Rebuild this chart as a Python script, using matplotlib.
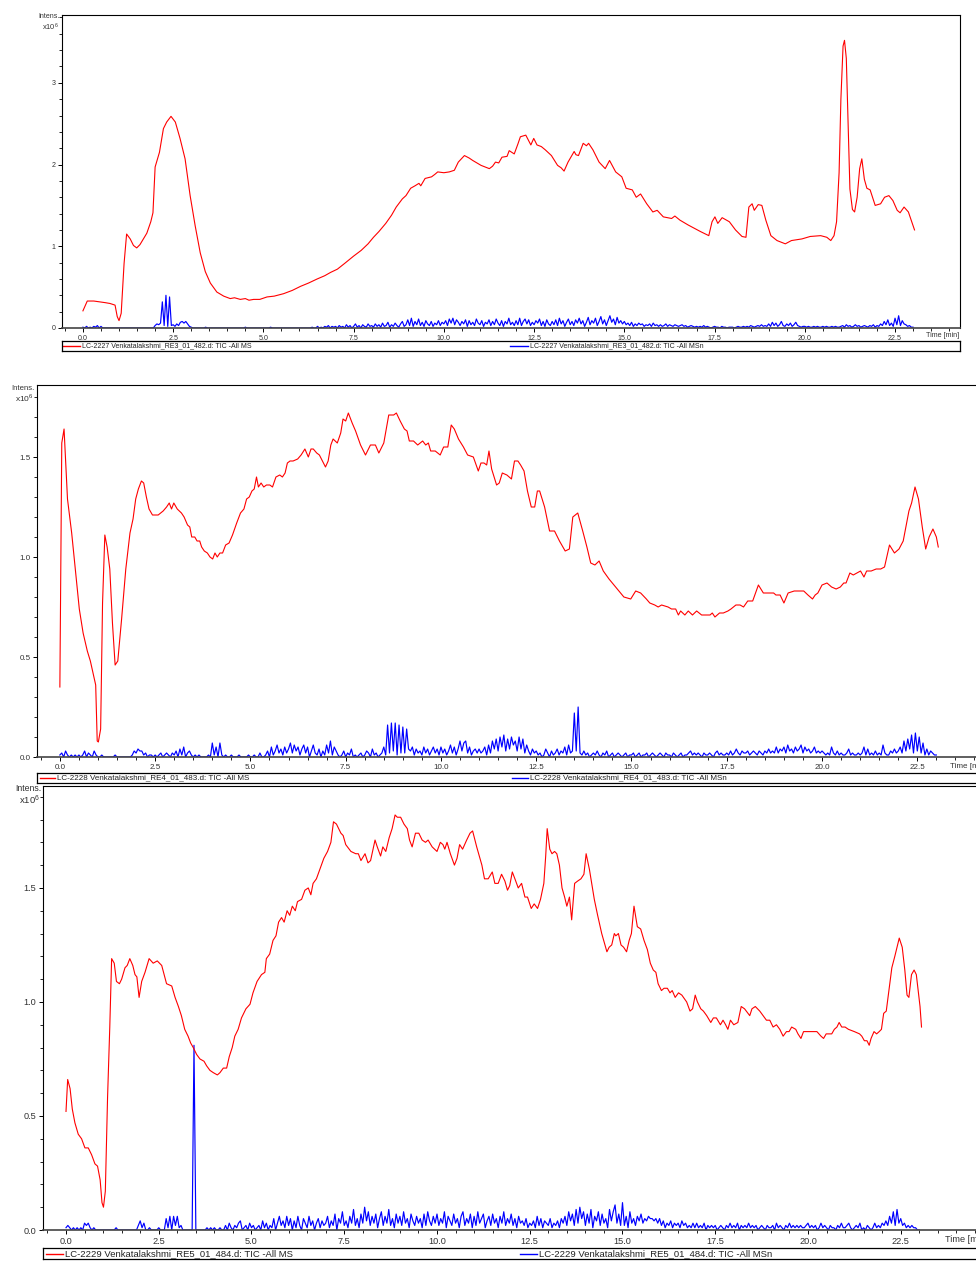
import numpy as np
import matplotlib
matplotlib.use("Agg")
import matplotlib.pyplot as plt
from matplotlib.ticker import MultipleLocator, FormatStrFormatter

W, H = 976, 1261
plt.rcParams["font.family"] = ["Liberation Sans", "DejaVu Sans"]
plt.rcParams["mathtext.fontset"] = "custom"
plt.rcParams["mathtext.rm"] = "Liberation Sans"

RED = "#ff0000"
BLUE = "#0000ff"
BLUE_STEP = 0.05  # minutes between MSn samples

# ---------------------------------------------------------------- data
# intensities in units of 1e6, time in minutes
p1_red_t = [0.00, 0.12, 0.30, 0.47, 0.62, 0.75, 0.89, 0.95, 1.00, 1.06, 1.14, 1.21, 1.31, 1.40, 1.49,
            1.58, 1.77, 1.88, 1.94, 2.00, 2.12, 2.23, 2.32, 2.44, 2.56, 2.69, 2.83, 2.97, 3.11, 3.25,
            3.39, 3.53, 3.71, 3.90, 4.08, 4.20, 4.36, 4.50, 4.60, 4.73, 4.90, 5.10, 5.30, 5.56, 5.80,
            6.03, 6.25, 6.49, 6.70, 6.86, 7.05, 7.25, 7.50, 7.71, 7.90, 8.05, 8.20, 8.39, 8.55, 8.68,
            8.85, 8.95, 9.08, 9.20, 9.31, 9.36, 9.48, 9.66, 9.75, 9.83, 10.00, 10.15, 10.29, 10.40,
            10.57, 10.70, 10.80, 11.03, 11.26, 11.35, 11.43, 11.52, 11.61, 11.75, 11.81, 11.95, 12.05,
            12.12, 12.27, 12.41, 12.49, 12.58, 12.70, 12.81, 12.98, 13.15, 13.25, 13.33, 13.44, 13.61,
            13.66, 13.73, 13.86, 13.95, 14.01, 14.13, 14.30, 14.47, 14.59, 14.76, 14.93, 15.05, 15.22,
            15.33, 15.45, 15.62, 15.79, 15.91, 16.08, 16.31, 16.40, 16.54, 16.77, 16.94, 17.11, 17.34,
            17.43, 17.51, 17.59, 17.71, 17.91, 18.08, 18.26, 18.37, 18.45, 18.54, 18.60, 18.71, 18.81,
            18.92, 19.06, 19.23, 19.46, 19.63, 19.92, 20.15, 20.44, 20.61, 20.72, 20.81, 20.88, 20.95,
            21.00, 21.06, 21.10, 21.15, 21.20, 21.25, 21.32, 21.38, 21.45, 21.52, 21.58, 21.65, 21.72,
            21.81, 21.95, 22.10, 22.21, 22.33, 22.44, 22.56, 22.64, 22.75, 22.87, 23.04]
p1_red_v = [0.21, 0.33, 0.33, 0.32, 0.31, 0.30, 0.28, 0.14, 0.09, 0.18, 0.79, 1.15, 1.09, 1.01, 0.98,
            1.02, 1.16, 1.30, 1.41, 1.97, 2.15, 2.44, 2.52, 2.59, 2.52, 2.32, 2.07, 1.62, 1.25, 0.92,
            0.69, 0.55, 0.44, 0.39, 0.36, 0.37, 0.35, 0.36, 0.34, 0.35, 0.35, 0.38, 0.39, 0.42, 0.46,
            0.51, 0.55, 0.60, 0.64, 0.68, 0.72, 0.79, 0.88, 0.95, 1.03, 1.11, 1.18, 1.28, 1.38, 1.48,
            1.58, 1.62, 1.71, 1.74, 1.77, 1.74, 1.83, 1.85, 1.88, 1.91, 1.90, 1.91, 1.93, 2.03,
            2.11, 2.08, 2.05, 1.99, 1.95, 1.98, 2.03, 2.02, 2.09, 2.10, 2.17, 2.13, 2.25,
            2.34, 2.36, 2.24, 2.32, 2.24, 2.22, 2.18, 2.11, 1.99, 1.96, 1.92, 2.03, 2.16,
            2.12, 2.11, 2.26, 2.23, 2.26, 2.18, 2.03, 1.95, 2.05, 1.91, 1.85, 1.71, 1.69,
            1.60, 1.64, 1.52, 1.42, 1.44, 1.36, 1.34, 1.37, 1.32, 1.26, 1.22, 1.18, 1.13,
            1.30, 1.36, 1.28, 1.35, 1.30, 1.20, 1.12, 1.11, 1.48, 1.52, 1.44, 1.51, 1.50,
            1.32, 1.13, 1.07, 1.03, 1.07, 1.09, 1.12, 1.13, 1.11, 1.07, 1.13, 1.30, 1.90,
            2.80, 3.45, 3.52, 3.30, 2.50, 1.70, 1.45, 1.42, 1.60, 1.95, 2.07, 1.82, 1.71,
            1.69, 1.50, 1.52, 1.60, 1.62, 1.56, 1.44, 1.41, 1.48, 1.42, 1.20]

# MSn trace, one value every BLUE_STEP min, units of 1e4
p1_blue = [
    1, 0, 2, 0, 1, 0, 2, 1, 3, 0, 2, 0, 0, 0, 0, 0, 0, 0, 0, 0,
    0, 0, 0, 0, 0, 0, 0, 0, 0, 0, 0, 0, 0, 0, 0, 0, 0, 0, 0, 0,
    3, 5, 4, 6, 32, 3, 40, 2, 38, 3, 4, 2, 5, 3, 7, 8, 6, 8, 5, 2,
    1, 0, 0, 0, 0, 0, 0, 0, 1, 0, 0, 0, 0, 0, 0, 0, 0, 0, 0, 0,
    0, 0, 0, 0, 0, 0, 0, 0, 0, 0, 1, 0, 0, 0, 0, 0, 0, 0, 0, 0,
    0, 0, 0, 0, 1, 0, 0, 0, 0, 0, 0, 0, 0, 0, 0, 0, 0, 0, 0, 0,
    0, 0, 0, 0, 0, 0, 0, 1, 0, 0, 2, 0, 1, 0, 2, 1, 3, 0, 2, 1,
    2, 0, 3, 1, 2, 0, 4, 1, 3, 0, 2, 5, 1, 3, 0, 4, 2, 1, 5, 2,
    3, 1, 5, 2, 4, 1, 6, 2, 3, 7, 1, 4, 2, 6, 3, 1, 5, 8, 2, 4,
    10, 3, 12, 2, 8, 4, 11, 3, 7, 2, 9, 5, 3, 8, 2, 6, 4, 9, 3, 7,
    5, 9, 3, 11, 6, 12, 4, 10, 7, 3, 8, 5, 10, 2, 9, 4, 7, 3, 11, 6,
    4, 9, 2, 7, 5, 10, 3, 8, 4, 11, 6, 3, 9, 2, 8, 5, 12, 4, 7, 3,
    9, 4, 12, 3, 8, 11, 5, 10, 3, 7, 4, 9, 6, 11, 3, 8, 2, 10, 5, 3,
    8, 4, 10, 3, 12, 5, 9, 2, 7, 11, 4, 8, 3, 10, 6, 12, 5, 9, 2, 7,
    13, 4, 9, 6, 12, 3, 8, 14, 5, 10, 3, 9, 15, 7, 11, 4, 13, 6, 9, 5,
    8, 4, 6, 3, 7, 2, 5, 3, 6, 4, 5, 2, 4, 3, 5, 2, 6, 3, 4, 2,
    4, 2, 3, 5, 2, 4, 3, 2, 4, 3, 2, 3, 4, 2, 3, 1, 2, 3, 2, 1,
    2, 1, 2, 1, 3, 1, 2, 1, 0, 1, 2, 1, 1, 0, 2, 1, 1, 0, 1, 1,
    1, 0, 1, 2, 1, 1, 2, 1, 2, 1, 3, 2, 1, 2, 3, 2, 4, 2, 3, 2,
    5, 2, 7, 3, 6, 2, 4, 8, 3, 2, 5, 3, 6, 2, 4, 7, 3, 2, 1, 2,
    2, 1, 2, 1, 1, 2, 1, 2, 1, 1, 2, 1, 2, 1, 1, 2, 1, 2, 1, 1,
    2, 3, 1, 4, 2, 3, 1, 2, 4, 2, 3, 1, 2, 3, 2, 1, 3, 2, 4, 1,
    3, 2, 5, 3, 8, 4, 10, 3, 6, 2, 12, 4, 15, 3, 9, 5, 4, 2, 3, 1,
    1]

p2_red_t = [0.00, 0.05, 0.11, 0.20, 0.31, 0.39, 0.51, 0.61, 0.72, 0.80, 0.94, 0.98, 1.01, 1.07, 1.12,
            1.18, 1.24, 1.31, 1.38, 1.45, 1.52, 1.62, 1.73, 1.84, 1.92, 1.99, 2.06, 2.14, 2.20, 2.27,
            2.34, 2.43, 2.58, 2.71, 2.80, 2.87, 2.93, 2.99, 3.08, 3.19, 3.26, 3.35, 3.41, 3.46, 3.54,
            3.60, 3.67, 3.72, 3.79, 3.87, 3.94, 4.01, 4.07, 4.13, 4.20, 4.27, 4.35, 4.44, 4.53, 4.64,
            4.74, 4.83, 4.90, 4.97, 5.04, 5.10, 5.16, 5.21, 5.28, 5.35, 5.42, 5.51, 5.58, 5.67, 5.77,
            5.84, 5.91, 5.97, 6.04, 6.12, 6.24, 6.33, 6.43, 6.52, 6.59, 6.65, 6.74, 6.81, 6.89, 6.97,
            7.04, 7.11, 7.17, 7.28, 7.37, 7.43, 7.50, 7.57, 7.67, 7.76, 7.89, 8.02, 8.15, 8.28, 8.37,
            8.50, 8.63, 8.76, 8.83, 8.93, 9.04, 9.11, 9.17, 9.28, 9.39, 9.52, 9.60, 9.67, 9.73, 9.85,
            9.98, 10.07, 10.18, 10.27, 10.35, 10.46, 10.59, 10.70, 10.85, 10.98, 11.05, 11.13, 11.20,
            11.26, 11.33, 11.46, 11.53, 11.61, 11.73, 11.85, 11.93, 12.02, 12.09, 12.18, 12.27, 12.37,
            12.46, 12.53, 12.59, 12.72, 12.85, 12.98, 13.11, 13.26, 13.37, 13.46, 13.59, 13.72, 13.83,
            13.93, 14.04, 14.15, 14.26, 14.41, 14.54, 14.67, 14.80, 14.98, 15.11, 15.24, 15.39, 15.48,
            15.61, 15.70, 15.79, 15.96, 16.05, 16.16, 16.23, 16.29, 16.40, 16.49, 16.60, 16.71, 16.84,
            16.97, 17.06, 17.12, 17.19, 17.31, 17.41, 17.53, 17.61, 17.74, 17.85, 17.94, 18.05, 18.18,
            18.33, 18.46, 18.61, 18.73, 18.79, 18.90, 19.00, 19.11, 19.27, 19.39, 19.52, 19.63, 19.75,
            19.82, 19.89, 20.00, 20.13, 20.25, 20.37, 20.48, 20.57, 20.63, 20.73, 20.82, 21.01, 21.10,
            21.17, 21.29, 21.42, 21.54, 21.64, 21.77, 21.90, 22.02, 22.13, 22.28, 22.35, 22.44, 22.53,
            22.63, 22.72, 22.81, 22.91, 23.00, 23.05]
p2_red_v = [0.35, 1.57, 1.64, 1.29, 1.12, 0.97, 0.74, 0.62, 0.53, 0.48, 0.36, 0.08, 0.075, 0.14, 0.77,
            1.11, 1.05, 0.94, 0.67, 0.46, 0.48, 0.69, 0.94, 1.12, 1.19, 1.29, 1.34, 1.38, 1.37, 1.30,
            1.24, 1.21, 1.21, 1.23, 1.25, 1.27, 1.24, 1.27, 1.24, 1.22, 1.20, 1.16, 1.15, 1.10, 1.10,
            1.08, 1.08, 1.05, 1.03, 1.02, 1.00, 0.99, 1.02, 1.00, 1.02, 1.02, 1.06, 1.07, 1.11, 1.17,
            1.22, 1.24, 1.29, 1.30, 1.33, 1.34, 1.40, 1.35, 1.37, 1.35, 1.36, 1.36, 1.35, 1.40, 1.41,
            1.40, 1.42, 1.47, 1.48, 1.48, 1.49, 1.51, 1.54, 1.50, 1.54, 1.54, 1.52, 1.51, 1.48, 1.45,
            1.48, 1.56, 1.59, 1.57, 1.62, 1.69, 1.68, 1.72, 1.67, 1.63, 1.56, 1.51, 1.56, 1.56, 1.52,
            1.57, 1.71, 1.71, 1.72, 1.68, 1.64, 1.63, 1.58, 1.58, 1.56, 1.58, 1.56, 1.57, 1.53, 1.53,
            1.51, 1.55, 1.55, 1.66, 1.64, 1.59, 1.55, 1.51, 1.50, 1.43, 1.47, 1.47, 1.46,
            1.53, 1.44, 1.36, 1.37, 1.42, 1.41, 1.39, 1.48, 1.48, 1.46, 1.43, 1.33, 1.25,
            1.25, 1.33, 1.33, 1.25, 1.13, 1.13, 1.08, 1.03, 1.04, 1.20, 1.22, 1.13, 1.05,
            0.97, 0.96, 0.98, 0.93, 0.89, 0.86, 0.83, 0.80, 0.79, 0.83, 0.82, 0.79, 0.77,
            0.76, 0.75, 0.76, 0.75, 0.74, 0.74, 0.71, 0.73, 0.71, 0.73, 0.71, 0.73, 0.71,
            0.71, 0.71, 0.72, 0.70, 0.72, 0.72, 0.73, 0.74, 0.76, 0.76, 0.75, 0.78, 0.78,
            0.86, 0.82, 0.82, 0.82, 0.81, 0.81, 0.77, 0.82, 0.83, 0.83, 0.83, 0.81, 0.79,
            0.81, 0.82, 0.86, 0.87, 0.85, 0.84, 0.85, 0.87, 0.87, 0.92, 0.91, 0.93, 0.90,
            0.93, 0.93, 0.94, 0.94, 0.95, 1.06, 1.02, 1.04, 1.08, 1.23, 1.27, 1.35, 1.29,
            1.15, 1.04, 1.10, 1.14, 1.10, 1.05]

p2_blue = [
    1, 2, 0, 3, 1, 0, 1, 0, 1, 0, 1, 0, 1, 3, 0, 2, 1, 0, 3, 1,
    0, 0, 1, 0, 0, 0, 0, 0, 0, 1, 0, 0, 0, 0, 0, 0, 0, 0, 1, 3,
    2, 4, 3, 3, 1, 2, 0, 1, 1, 0, 1, 0, 1, 2, 0, 1, 2, 1, 0, 2,
    1, 3, 0, 4, 1, 5, 0, 2, 3, 1, 0, 1, 0, 1, 0, 0, 0, 0, 1, 0,
    7, 1, 5, 0, 7, 1, 0, 1, 0, 0, 1, 0, 0, 0, 1, 0, 0, 0, 0, 1,
    0, 0, 1, 0, 0, 2, 0, 0, 1, 3, 0, 5, 1, 3, 6, 2, 4, 1, 5, 2,
    4, 7, 2, 6, 3, 5, 1, 4, 6, 2, 5, 0, 3, 6, 2, 1, 4, 0, 3, 1,
    6, 2, 8, 1, 5, 3, 1, 0, 1, 3, 0, 2, 1, 4, 0, 1, 0, 1, 2, 0,
    1, 3, 2, 0, 4, 1, 2, 0, 1, 2, 5, 1, 16, 2, 17, 3, 17, 1, 16, 2,
    15, 2, 14, 4, 3, 5, 1, 4, 2, 3, 1, 5, 2, 4, 1, 3, 5, 2, 4, 1,
    5, 2, 4, 1, 3, 6, 2, 5, 1, 4, 8, 3, 7, 8, 2, 5, 1, 3, 4, 2,
    4, 2, 3, 5, 1, 6, 2, 8, 4, 9, 3, 10, 5, 11, 3, 9, 4, 10, 6, 8,
    3, 10, 4, 9, 2, 6, 3, 1, 4, 2, 3, 1, 2, 0, 1, 4, 2, 0, 3, 1,
    2, 4, 1, 3, 2, 5, 1, 6, 2, 3, 22, 3, 25, 2, 1, 3, 1, 2, 0, 1,
    2, 1, 3, 1, 0, 2, 1, 3, 0, 1, 2, 0, 1, 2, 1, 0, 1, 2, 0, 1,
    1, 2, 0, 1, 2, 0, 1, 1, 2, 0, 1, 2, 1, 0, 1, 2, 1, 0, 2, 1,
    1, 0, 2, 1, 0, 1, 2, 0, 1, 1, 2, 3, 1, 2, 1, 2, 1, 0, 2, 1,
    1, 2, 1, 0, 2, 3, 1, 2, 1, 1, 2, 1, 3, 1, 2, 4, 2, 1, 3, 2,
    2, 3, 1, 2, 3, 2, 1, 3, 2, 1, 3, 2, 4, 2, 3, 2, 5, 2, 4, 3,
    5, 2, 6, 3, 4, 2, 5, 3, 4, 6, 2, 5, 3, 4, 2, 3, 5, 2, 3, 2,
    3, 2, 1, 2, 1, 5, 2, 1, 3, 1, 2, 1, 1, 2, 4, 1, 2, 1, 1, 2,
    1, 2, 5, 1, 4, 1, 2, 1, 3, 1, 2, 1, 6, 2, 1, 1, 3, 2, 4, 2,
    3, 5, 2, 8, 3, 9, 4, 11, 2, 12, 3, 10, 2, 7, 1, 4, 1, 3, 2, 1,
    1]

p3_red_t = [0.00, 0.045, 0.11, 0.17, 0.24, 0.33, 0.42, 0.51, 0.60, 0.69, 0.78, 0.85, 0.92, 0.97, 1.01,
            1.06, 1.12, 1.18, 1.23, 1.30, 1.36, 1.44, 1.50, 1.59, 1.65, 1.72, 1.80, 1.86, 1.91, 1.97,
            2.04, 2.13, 2.24, 2.35, 2.46, 2.58, 2.71, 2.85, 2.94, 3.03, 3.11, 3.20, 3.29, 3.36, 3.43,
            3.52, 3.61, 3.72, 3.79, 3.88, 3.97, 4.08, 4.15, 4.24, 4.33, 4.40, 4.48, 4.55, 4.64, 4.73,
            4.85, 4.96, 5.04, 5.15, 5.27, 5.36, 5.40, 5.49, 5.58, 5.66, 5.73, 5.81, 5.88, 5.96, 6.03,
            6.10, 6.18, 6.24, 6.35, 6.44, 6.53, 6.60, 6.66, 6.75, 6.86, 6.95, 7.05, 7.14, 7.21, 7.29,
            7.41, 7.47, 7.54, 7.68, 7.81, 7.88, 7.95, 8.06, 8.14, 8.21, 8.33, 8.39, 8.48, 8.54, 8.62,
            8.71, 8.79, 8.87, 8.93, 9.02, 9.11, 9.20, 9.26, 9.33, 9.42, 9.51, 9.60, 9.69, 9.76, 9.87,
            10.00, 10.09, 10.16, 10.21, 10.27, 10.36, 10.47, 10.54, 10.61, 10.69, 10.80, 10.89, 10.96,
            11.07, 11.21, 11.28, 11.38, 11.49, 11.56, 11.65, 11.74, 11.83, 11.90, 11.96, 12.03, 12.10,
            12.19, 12.28, 12.37, 12.44, 12.54, 12.62, 12.71, 12.79, 12.88, 12.93, 12.97, 13.04, 13.10,
            13.17, 13.23, 13.30, 13.37, 13.44, 13.50, 13.57, 13.63, 13.71, 13.79, 13.88, 13.96, 14.02,
            14.11, 14.24, 14.33, 14.44, 14.51, 14.58, 14.64, 14.71, 14.78, 14.82, 14.89, 14.96, 15.03,
            15.11, 15.18, 15.24, 15.31, 15.40, 15.49, 15.58, 15.67, 15.75, 15.83, 15.90, 15.96, 16.05,
            16.12, 16.21, 16.28, 16.34, 16.42, 16.51, 16.60, 16.73, 16.82, 16.89, 16.96, 17.02, 17.11,
            17.18, 17.27, 17.38, 17.45, 17.53, 17.64, 17.71, 17.78, 17.84, 17.91, 18.00, 18.11, 18.20,
            18.29, 18.43, 18.49, 18.58, 18.70, 18.79, 18.88, 18.97, 19.06, 19.15, 19.24, 19.33, 19.42,
            19.49, 19.56, 19.67, 19.73, 19.81, 19.88, 19.99, 20.12, 20.24, 20.35, 20.42, 20.49, 20.57,
            20.64, 20.71, 20.78, 20.84, 20.91, 21.00, 21.09, 21.25, 21.39, 21.45, 21.52, 21.59, 21.65,
            21.70, 21.78, 21.85, 21.92, 21.98, 22.04, 22.11, 22.18, 22.26, 22.34, 22.40, 22.46, 22.54,
            22.61, 22.67, 22.72, 22.79, 22.86, 22.92, 22.97, 23.02, 23.06]
p3_red_v = [0.52, 0.66, 0.62, 0.53, 0.47, 0.42, 0.40, 0.36, 0.36, 0.33, 0.29, 0.28, 0.22, 0.12, 0.10,
            0.17, 0.58, 0.89, 1.19, 1.17, 1.09, 1.08, 1.10, 1.15, 1.16, 1.19, 1.16, 1.12, 1.11, 1.02,
            1.09, 1.13, 1.19, 1.17, 1.18, 1.16, 1.08, 1.07, 1.02, 0.98, 0.94, 0.88, 0.85, 0.82, 0.80,
            0.77, 0.75, 0.74, 0.72, 0.70, 0.69, 0.68, 0.69, 0.71, 0.71, 0.76, 0.80, 0.85, 0.88, 0.93,
            0.97, 0.99, 1.04, 1.09, 1.12, 1.13, 1.19, 1.21, 1.27, 1.29, 1.35, 1.37, 1.35, 1.40, 1.38,
            1.42, 1.40, 1.44, 1.45, 1.49, 1.50, 1.47, 1.52, 1.54, 1.59, 1.63, 1.66, 1.70, 1.79, 1.78,
            1.74, 1.73, 1.69, 1.66, 1.65, 1.65, 1.62, 1.65, 1.61, 1.62, 1.71, 1.68, 1.64, 1.68, 1.66,
            1.72, 1.76, 1.82, 1.81, 1.81, 1.78, 1.76, 1.71, 1.68, 1.74, 1.74, 1.71, 1.70, 1.71, 1.68,
            1.66, 1.70, 1.69, 1.67, 1.70, 1.65, 1.60, 1.63, 1.69, 1.67, 1.71, 1.74, 1.75,
            1.68, 1.60, 1.54, 1.54, 1.57, 1.52, 1.52, 1.56, 1.53, 1.49, 1.51, 1.57, 1.54,
            1.50, 1.52, 1.46, 1.46, 1.41, 1.43, 1.41, 1.45, 1.52, 1.64, 1.76, 1.67, 1.65,
            1.66, 1.65, 1.60, 1.50, 1.46, 1.42, 1.46, 1.36, 1.52, 1.53, 1.54, 1.56, 1.65,
            1.58, 1.45, 1.38, 1.30, 1.26, 1.22, 1.24, 1.25, 1.30, 1.29, 1.30, 1.25, 1.24,
            1.22, 1.27, 1.30, 1.42, 1.33, 1.32, 1.27, 1.23, 1.17, 1.14, 1.13, 1.08, 1.05,
            1.06, 1.06, 1.04, 1.05, 1.02, 1.04, 1.03, 1.00, 0.96, 0.97, 1.03, 1.00, 0.97,
            0.96, 0.94, 0.91, 0.93, 0.93, 0.90, 0.92, 0.90, 0.88, 0.92, 0.90, 0.91, 0.98,
            0.97, 0.94, 0.97, 0.98, 0.96, 0.94, 0.92, 0.92, 0.89, 0.90, 0.88, 0.85, 0.87,
            0.87, 0.89, 0.88, 0.86, 0.84, 0.87, 0.87, 0.87, 0.87, 0.85, 0.84, 0.86, 0.86,
            0.86, 0.88, 0.89, 0.91, 0.89, 0.89, 0.88, 0.87, 0.86, 0.85, 0.83, 0.83, 0.81,
            0.84, 0.87, 0.86, 0.87, 0.88, 0.95, 0.96, 1.05, 1.15, 1.20, 1.24, 1.28, 1.24,
            1.14, 1.03, 1.02, 1.12, 1.14, 1.12, 1.05, 0.98, 0.89]

p3_blue = [
    1, 2, 1, 0, 1, 0, 1, 0, 1, 0, 3, 2, 3, 1, 0, 1, 0, 0, 0, 0,
    0, 0, 0, 0, 0, 0, 0, 1, 0, 0, 0, 0, 0, 0, 0, 0, 0, 0, 0, 2,
    4, 1, 3, 0, 0, 1, 0, 0, 0, 0, 1, 0, 0, 0, 5, 1, 6, 0, 6, 2,
    6, 1, 2, 0, 0, 0, 0, 0, 0, 81, 0, 0, 0, 0, 0, 0, 1, 0, 1, 0,
    1, 0, 0, 1, 0, 0, 2, 0, 3, 1, 0, 2, 1, 3, 4, 0, 1, 2, 0, 3,
    1, 2, 0, 1, 2, 0, 4, 1, 3, 0, 2, 1, 5, 0, 3, 6, 2, 4, 1, 6,
    2, 5, 0, 4, 1, 6, 2, 0, 5, 3, 1, 6, 2, 4, 0, 3, 5, 1, 4, 2,
    3, 6, 1, 4, 2, 7, 0, 5, 3, 8, 2, 4, 1, 6, 3, 9, 2, 5, 1, 7,
    3, 10, 4, 8, 2, 6, 3, 7, 1, 5, 8, 2, 6, 3, 9, 2, 5, 1, 7, 3,
    6, 2, 8, 3, 5, 1, 7, 4, 2, 6, 3, 5, 1, 7, 2, 8, 4, 2, 6, 3,
    7, 2, 5, 3, 8, 1, 6, 4, 2, 7, 3, 5, 1, 6, 8, 2, 5, 3, 7, 1,
    6, 2, 8, 3, 5, 7, 1, 4, 6, 2, 7, 3, 5, 1, 6, 3, 8, 2, 5, 3,
    7, 2, 5, 1, 6, 3, 4, 2, 5, 1, 3, 2, 4, 1, 6, 2, 5, 1, 4, 3,
    2, 5, 1, 3, 2, 4, 1, 5, 3, 6, 2, 8, 4, 7, 2, 9, 3, 10, 5, 8,
    2, 7, 3, 9, 1, 6, 4, 8, 2, 7, 3, 5, 1, 9, 4, 8, 11, 3, 7, 2,
    12, 2, 6, 1, 8, 3, 5, 2, 6, 4, 7, 3, 5, 4, 6, 5, 5, 4, 5, 3,
    5, 2, 4, 1, 3, 2, 4, 1, 3, 2, 3, 1, 4, 2, 3, 1, 2, 1, 3, 1,
    3, 1, 2, 1, 3, 0, 2, 1, 2, 1, 2, 0, 1, 2, 1, 0, 2, 1, 3, 1,
    2, 1, 3, 0, 2, 1, 2, 1, 3, 1, 2, 1, 2, 0, 1, 2, 1, 0, 2, 1,
    1, 2, 0, 3, 1, 2, 1, 0, 2, 1, 3, 1, 2, 1, 2, 1, 2, 1, 1, 2,
    3, 1, 2, 1, 2, 0, 1, 3, 1, 2, 1, 0, 2, 1, 1, 0, 2, 1, 3, 1,
    1, 2, 3, 1, 0, 1, 2, 1, 3, 0, 1, 0, 2, 1, 0, 1, 3, 1, 2, 1,
    3, 2, 4, 2, 6, 3, 8, 2, 9, 3, 5, 2, 3, 1, 2, 1, 2, 1, 1, 0,
    0]

ms_labels = ["LC-2227 Venkatalakshmi_RE3_01_482.d: TIC -All MS",
             "LC-2228 Venkatalakshmi_RE4_01_483.d: TIC -All MS",
             "LC-2229 Venkatalakshmi_RE5_01_484.d: TIC -All MS"]
msn_labels = ["LC-2227 Venkatalakshmi_RE3_01_482.d: TIC -All MSn",
              "LC-2228 Venkatalakshmi_RE4_01_483.d: TIC -All MSn",
              "LC-2229 Venkatalakshmi_RE5_01_484.d: TIC -All MSn"]


def px_rect(left, top, right, bottom):
    return [left / W, 1 - bottom / H, (right - left) / W, (bottom - top) / H]


def fig_text(fig, x, y, s, size, **kw):
    fig.text(x / W, 1 - y / H, s, fontsize=size, **kw)


def draw_panel(fig, p):
    ax = fig.add_axes(px_rect(*p["box"]))
    blue = np.array(p["blue"]) / 100.0
    blue_t = np.arange(len(blue)) * BLUE_STEP
    ax.plot(p["red_t"], p["red_v"], color=RED, lw=0.8, zorder=3)
    ax.plot(blue_t, blue, color=BLUE, lw=0.85, zorder=2)
    ax.set_xlim(*p["xlim"])
    ax.set_ylim(0, p["ytop"])

    fs = p["fs"]
    ax.xaxis.set_major_locator(MultipleLocator(2.5))
    ax.xaxis.set_minor_locator(MultipleLocator(0.5))
    ax.xaxis.set_major_formatter(FormatStrFormatter("%.1f"))
    ax.yaxis.set_major_locator(MultipleLocator(p["ymaj"]))
    ax.yaxis.set_minor_locator(MultipleLocator(p["ymin"]))
    ax.yaxis.set_major_formatter(FormatStrFormatter(p["yfmt"]))
    ax.tick_params(which="major", direction="out", length=3.2, width=0.7,
                   labelsize=fs, labelcolor="#333333", pad=1.5)
    ax.tick_params(which="minor", direction="out", length=2, width=0.6)
    for side in ("top", "right", "left"):
        ax.spines[side].set_linewidth(0.8)
        ax.spines[side].set_color("black")
    ax.spines["bottom"].set_linewidth(1.2)
    ax.spines["bottom"].set_color("#444444")

    l, t, r, b = p["box"]
    fig_text(fig, l - 2, t + p["intens_dy"][0], "Intens.", p["ifs"], ha="right", va="center",
             color="#333333")
    fig_text(fig, l - 3, t + p["intens_dy"][1], r"x10$^6$", p["ifs"] * 1.08, ha="right",
             va="center", color="#333333")
    fig_text(fig, p["time_xy"][0], p["time_xy"][1], "Time [min]", fs, ha="left", va="center",
             color="#333333")

    # legend box
    lx0, ly0, lx1, ly1 = p["legend_box"]
    lax = fig.add_axes(px_rect(*p["legend_box"]))
    lax.set_xlim(lx0, lx1)
    lax.set_ylim(0, 1)
    lax.set_xticks([])
    lax.set_yticks([])
    for sp in lax.spines.values():
        sp.set_linewidth(0.9)
        sp.set_color("black")
    for (a, c, txt), color in zip(p["legend_items"], (RED, BLUE)):
        lax.plot([a, c], [0.5, 0.5], color=color, lw=1.0)
        lax.text(c + 2, 0.5, txt, fontsize=p["lfs"], va="center", ha="left", color="#222222")
    return ax


panels = [
    dict(box=(62, 15, 960, 328), xlim=(-0.58, 24.30), ytop=3.83, ymaj=1, ymin=0.2, yfmt="%d",
         red_t=p1_red_t, red_v=p1_red_v, blue=p1_blue, fs=5.1, lfs=5.0, ifs=5.0,
         intens_dy=(2, 12), time_xy=(926, 336),
         legend_box=(62, 341, 960, 351),
         legend_items=[(63, 80, ms_labels[0]), (510, 528, msn_labels[0])]),
    dict(box=(37, 385, 992, 757), xlim=(-0.60, 24.46), ytop=1.86, ymaj=0.5, ymin=0.1, yfmt="%.1f",
         red_t=p2_red_t, red_v=p2_red_v, blue=p2_blue, fs=5.8, lfs=5.8, ifs=5.6,
         intens_dy=(3, 13), time_xy=(950, 766),
         legend_box=(37, 773, 992, 783),
         legend_items=[(40, 55, ms_labels[1]), (512, 528, msn_labels[1])]),
    dict(box=(43, 786, 992, 1230), xlim=(-0.62, 24.96), ytop=1.947, ymaj=0.5, ymin=0.1, yfmt="%.1f",
         red_t=p3_red_t, red_v=p3_red_v, blue=p3_blue, fs=6.6, lfs=6.8, ifs=6.3,
         intens_dy=(2.5, 14), time_xy=(945, 1240),
         legend_box=(43, 1248, 992, 1259),
         legend_items=[(46, 63, ms_labels[2]), (520, 537, msn_labels[2])]),
]

fig = plt.figure(figsize=(W / 100, H / 100), dpi=100)
fig.patch.set_facecolor("white")
for p in panels:
    draw_panel(fig, p)

fig.savefig("out.png", dpi=100)
